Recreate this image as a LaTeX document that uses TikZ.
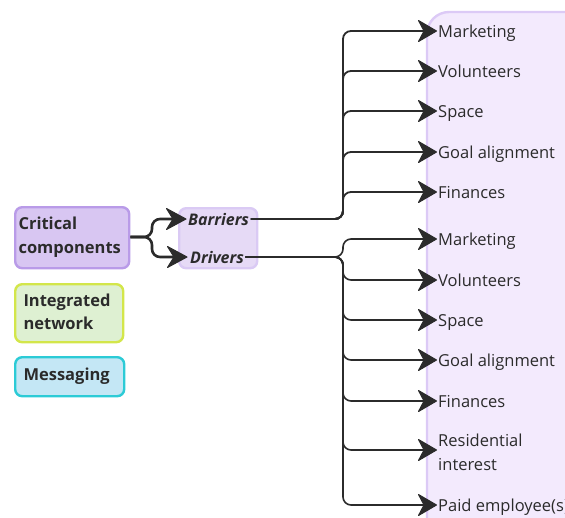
\documentclass[tikz,border=0pt]{standalone}
\usepackage{fontspec}
\setmainfont{Open Sans}
\definecolor{ink}{HTML}{2B2B2B}
\definecolor{critfill}{HTML}{D8C6F2}
\definecolor{critline}{HTML}{B99BE8}
\definecolor{bdfill}{HTML}{E6DAF6}
\definecolor{bdline}{HTML}{DACAF4}
\definecolor{netfill}{HTML}{DEF0D2}
\definecolor{netline}{HTML}{D3E64A}
\definecolor{msgfill}{HTML}{C4E7F5}
\definecolor{msgline}{HTML}{2CCBD6}
\definecolor{listfill}{HTML}{F3EAFD}
\definecolor{listline}{HTML}{DCCAF6}
\tikzset{
  x=1pt, y=-1pt,
  txt/.style={font=\fontsize{16.5}{23.5}\selectfont, text=ink, align=left},
  tag/.style={txt, font=\fontsize{16.5}{23.5}\selectfont\bfseries, rounded corners=7pt, line width=2.4pt, inner sep=0pt, anchor=north west},
  item/.style={txt, anchor=base west, inner xsep=1pt, inner ysep=0pt},
  % connector lines with rounded elbows
  conn/.style={draw=ink, line width=1.8pt, rounded corners=8pt},
  % dart-shaped arrow heads, tip at the pic origin
  arrowhead/.pic={\filldraw[ink, line width=1pt, line join=round]
    (-0.5,0) -- (-18.5,-10.5) -- (-13,0) -- (-18.5,10.5) -- cycle;},
  bigarrowhead/.pic={\filldraw[ink, line width=1pt, line join=round]
    (-0.5,0) -- (-20,-10.5) -- (-13.5,0) -- (-20,10.5) -- cycle;},
}
\begin{document}
\begin{tikzpicture}
\useasboundingbox (0,0) rectangle (565,517);
\clip (0,0) rectangle (565,517);

% list panel on the right
\draw[fill=listfill, draw=listline, line width=2.4pt, rounded corners=22pt]
  (427,12) rectangle (590,540);

% legend boxes
\node[tag, fill=critfill, draw=critline, minimum width=114pt, minimum height=61pt] (crit) at (14,206) {};
\node[txt, font=\fontsize{16.5}{24}\selectfont\bfseries, anchor=west] (critt) at (15,237) {Critical\\components};
\node[tag, fill=netfill, draw=netline, minimum width=108pt, minimum height=58pt] (net) at (14,283) {};
\node[txt, font=\fontsize{16.5}{23.5}\selectfont\bfseries, anchor=west] (nett) at (20,312) {Integrated\\network};
\node[tag, fill=msgfill, draw=msgline, minimum width=109pt, minimum height=39pt] (msg) at (14,356) {};
\node[txt, font=\fontsize{16.5}{23.5}\selectfont\bfseries, anchor=west] (msgt) at (20,376) {Messaging};

% barriers / drivers box
\node[tag, fill=bdfill, draw=bdline, minimum width=78pt, minimum height=60pt] (bd) at (178,207) {};
\node[txt, font=\fontsize{16}{20}\selectfont\bfseries\itshape, anchor=west, inner xsep=1.5pt, inner ysep=0pt] (bar) at (186.5,219) {Barriers};
\node[txt, font=\fontsize{16}{20}\selectfont\bfseries\itshape, anchor=west, inner xsep=1.5pt, inner ysep=0pt] (drv) at (188.5,257) {Drivers};

% barrier items (baselines)
\node[item] (b1) at (437,37) {Marketing};
\node[item] (b2) at (437,77) {Volunteers};
\node[item] (b3) at (437,117) {Space};
\node[item] (b4) at (437,158) {Goal alignment};
\node[item] (b5) at (437,198) {Finances};

% driver items (baselines; the two-line item is placed by its last line)
\node[item] (d1) at (437,245) {Marketing};
\node[item] (d2) at (437,286) {Volunteers};
\node[item] (d3) at (437,326) {Space};
\node[item] (d4) at (437,366) {Goal alignment};
\node[item] (d5) at (437,407) {Finances};
\node[item] (d6) at (437,470) {Residential\\interest};
\node[item] (d7) at (437,511) {Paid employee(s)};

% arrow targets, level with the middle of the capitals
\foreach \n/\dy in {b1/6,b2/6,b3/6,b4/6,b5/6,d1/6,d2/6,d3/6,d4/6,d5/6,d6/20,d7/6}
  \coordinate (\n t) at ([yshift=\dy pt]\n.base west);

% branch points
\coordinate (cs) at (152,237);
\coordinate (ts) at (343,0);

% connectors from the component box
\foreach \n/\dx in {bar/0, drv/-1} {
  \draw[conn, line width=2.6pt] (crit.east |- cs) -| (cs |- \n.west) -- ([xshift=\dx pt-13pt]\n.west);
  \pic at ([xshift=\dx pt]\n.west) {bigarrowhead};
}

% barriers fan
\foreach \n in {b1,b2,b3,b4,b5} {
  \draw[conn] (bar.east) -| (ts |- \n t) -- ([xshift=-13pt]\n t);
  \pic at (\n t) {arrowhead};
}

% drivers fan
\foreach \n in {d1,d2,d3,d4,d5,d6,d7} {
  \draw[conn, line width=1.6pt] (drv.east) -| (ts |- \n t) -- ([xshift=-13pt]\n t);
  \pic at (\n t) {arrowhead};
}
\end{tikzpicture}
\end{document}
